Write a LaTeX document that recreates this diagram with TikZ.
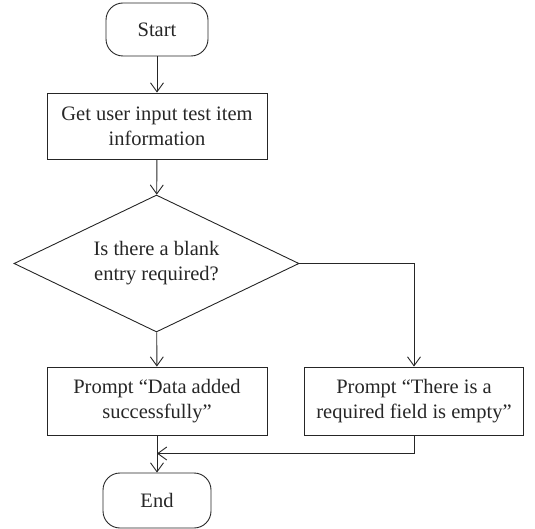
\documentclass[tikz,border=0pt]{standalone}
\usepackage{fontspec}
\setmainfont{Liberation Serif}
\usetikzlibrary{shapes.geometric,arrows.meta}
\definecolor{ink}{HTML}{262626}
\tikzset{
  base/.style={draw=ink, text=ink, line width=0.9pt, align=center, inner sep=0pt,
    font=\fontsize{20.5}{25}\selectfont},
  term/.style={base, rounded corners=17pt},
  proc/.style={base, rectangle},
  dec/.style={base, diamond, aspect=2.08},
  conn/.style={draw=ink, line width=0.9pt, -{Straight Barb[length=9pt,width=13pt,line width=0.9pt]}},
  plain/.style={draw=ink, line width=0.9pt}
}
\begin{document}
\begin{tikzpicture}[x=1pt,y=-1pt]
\useasboundingbox (0,0) rectangle (535,529);
\node[term, minimum width=102pt, minimum height=53pt] (start) at (157,29.5) {Start};
\node[proc, minimum width=220pt, minimum height=66pt] (get) at (157,126) {Get user input test item\\information};
\node[dec, minimum width=285pt, minimum height=137pt] (q) at (156.5,263.5) {Is there a blank\\entry required?};
\node[proc, minimum width=220pt, minimum height=68pt] (ok) at (157,401) {Prompt “Data added\\successfully”};
\node[proc, minimum width=219pt, minimum height=68pt] (err) at (414,401) {Prompt “There is a\\required field is empty”};
\node[term, minimum width=108pt, minimum height=55pt] (end) at (157,500.5) {End};
\coordinate (m) at (157,453.5);
\draw[conn] (start) -- (get);
\draw[conn] (get) -- (q);
\draw[conn] (q) -- (ok);
\draw[conn] (q.east) -| (err.north);
\draw[conn] (err.south) |- (m);
\draw[conn] (ok) -- (end);
\end{tikzpicture}
\end{document}
